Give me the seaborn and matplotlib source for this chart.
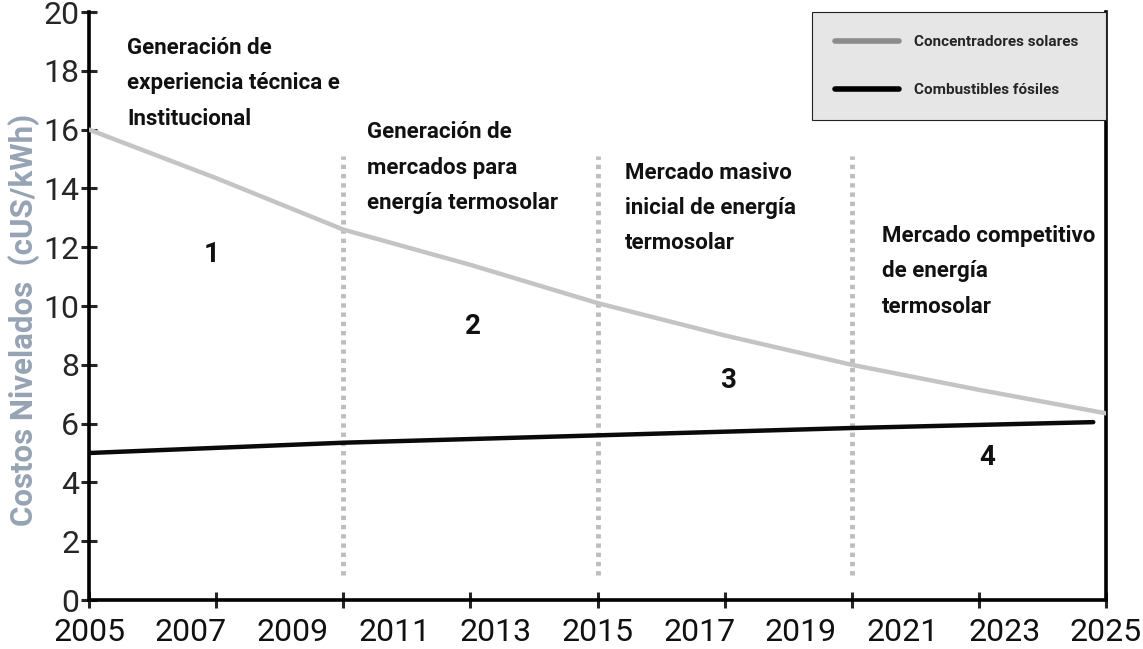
import seaborn as sns
import matplotlib.pyplot as plt
import matplotlib.transforms as mtransforms
import pandas as pd
import numpy as np
from matplotlib.lines import Line2D

# Data
solar_years = [2005, 2007.5, 2010, 2012.5, 2015, 2017.5, 2020, 2022.5, 2025]
solar_cost = [16.0, 14.35, 12.6, 11.4, 10.1, 9.0, 8.0, 7.15, 6.35]
fossil_years = [2005, 2010, 2015, 2020, 2024.75]
fossil_cost = [5.0, 5.35, 5.6, 5.85, 6.05]
phase_bounds = [2010, 2015, 2020]
label_years = [2005, 2007, 2009, 2011, 2013, 2015, 2017, 2019, 2021, 2023, 2025]
phase_texts = [
    "Generación de\nexperiencia técnica e\nInstitucional",
    "Generación de\nmercados para\nenergía termosolar",
    "Mercado masivo\ninicial de energía\ntermosolar",
    "Mercado competitivo\nde energía\ntermosolar",
]
phase_numbers = ["1", "2", "3", "4"]
series_names = ["Concentradores solares", "Combustibles fósiles"]

df = pd.concat([
    pd.DataFrame({"Año": solar_years, "Costo": solar_cost, "Serie": series_names[0]}),
    pd.DataFrame({"Año": fossil_years, "Costo": fossil_cost, "Serie": series_names[1]}),
])

sns.set_style("white")
plt.rcParams['font.family'] = ['Roboto', 'DejaVu Sans']
cond = ['Roboto', 'DejaVu Sans']

fig = plt.figure(figsize=(11.43, 6.49), dpi=100)
ax = fig.add_axes([0.0779, 0.0755, 0.8897, 0.906])

# phase separators
for xb in phase_bounds:
    ax.plot([xb, xb], [0.85, 15.1], color="#bdbdbd", lw=3.5,
            linestyle=(0, (0.9, 1.0)), zorder=1)

sns.lineplot(data=df, x="Año", y="Costo", hue="Serie", ax=ax,
             palette={series_names[0]: "#c4c4c4", series_names[1]: "#0a0a0a"},
             linewidth=3.2, legend=False, zorder=3)

# tick marks every 2.5 years, year labels at odd years
ax.set_xticks(np.arange(2005, 2025.1, 2.5))
ax.set_xticklabels([])
ax.tick_params(axis="x", bottom=True, direction="inout", length=12, width=2.2)
ax.set_yticks(range(0, 21, 2))
ax.set_yticklabels([str(v) for v in range(0, 21, 2)], fontsize=23)
ax.tick_params(axis="y", left=True, direction="inout", length=12, width=2.2, pad=1)
ax.set_xlim(2005, 2025)
ax.set_ylim(0, 20)

trans = mtransforms.blended_transform_factory(ax.transData, ax.transAxes)
for yr in label_years:
    ax.text(yr, -0.03, str(yr), transform=trans, ha="center", va="top",
            fontsize=23, color="#111111", clip_on=False)

for side in ["left", "bottom", "right"]:
    ax.spines[side].set_linewidth(2.6)
    ax.spines[side].set_color("black")
ax.spines["top"].set_visible(False)

ax.set_xlabel("")
ax.set_ylabel("Costos Nivelados  (cUS/kWh)", fontsize=22.5, fontweight="bold",
              color="#95a3b4", family=cond)
ax.yaxis.set_label_coords(-0.048, 0.476)

text_pos = [(2005.75, 19.15), (2010.47, 16.28), (2015.54, 14.9), (2020.6, 12.75)]
for (tx, ty), t in zip(text_pos, phase_texts):
    ax.text(tx, ty, t, ha="left", va="top", fontsize=16, fontweight="bold",
            family=cond, linespacing=1.78, color="#111111")

num_pos = [(2007.42, 11.75), (2012.55, 9.3), (2017.57, 7.45), (2022.66, 4.85)]
for (nx, ny), n in zip(num_pos, phase_numbers):
    ax.text(nx, ny, n, ha="center", va="center", fontsize=20, fontweight="bold",
            family=cond, color="#111111")

handles = [Line2D([], [], color="#8c8c8c", lw=4, solid_capstyle="round"),
           Line2D([], [], color="black", lw=4, solid_capstyle="round")]
leg = ax.legend(handles, series_names, loc="upper left",
                bbox_to_anchor=(0.711, 0.818, 0.289, 0.182), mode="expand",
                frameon=True, fancybox=False, facecolor="#e6e6e6", edgecolor="#222222",
                framealpha=1, handlelength=4.2, labelspacing=2.25,
                prop={"family": cond, "weight": "bold", "size": 11},
                borderaxespad=0, borderpad=1.5, handletextpad=1.0)
leg.get_frame().set_linewidth(0.8)

fig.savefig("out.png", dpi=100)
